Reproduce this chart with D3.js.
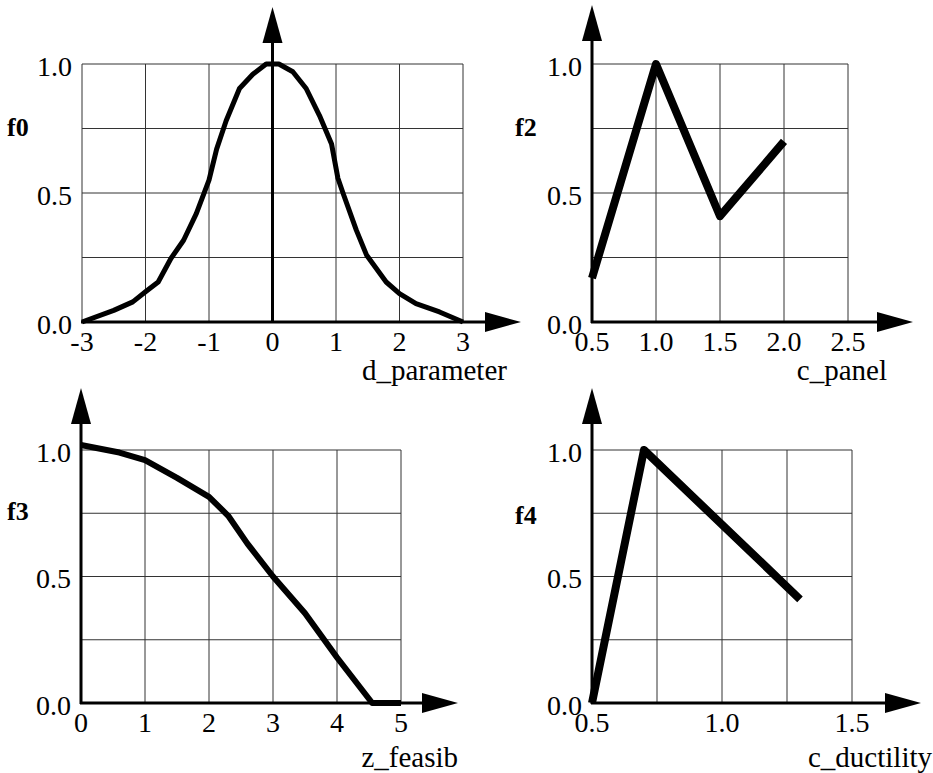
<!DOCTYPE html>
<html>
<head>
<meta charset="utf-8">
<script src="https://cdn.jsdelivr.net/npm/d3@7"></script>
<style>
  body { margin: 0; background: #fff; }
</style>
</head>
<body>
<div id="chart"></div>
<script>
// curve values
const f0X = [-3, -2.5, -2.2, -2, -1.8, -1.6, -1.4, -1.2, -1, -0.88, -0.73, -0.52, -0.31, -0.1, 0.1, 0.32, 0.53, 0.74, 0.93, 1.03, 1.11, 1.32, 1.48, 1.79, 2, 2.26, 2.63, 3];
const f0Y = [0, 0.045, 0.078, 0.117, 0.155, 0.246, 0.317, 0.42, 0.55, 0.67, 0.78, 0.905, 0.96, 1.0, 1.0, 0.97, 0.905, 0.8, 0.69, 0.557, 0.5, 0.356, 0.26, 0.155, 0.11, 0.071, 0.039, 0];

const f2X = [0.5, 1.0, 1.5, 2.0];
const f2Y = [0.17, 1.0, 0.41, 0.7];

const f3X = [0, 0.6, 1, 1.5, 2, 2.3, 2.6, 3, 3.5, 4, 4.55, 5];
const f3Y = [1.02, 0.99, 0.96, 0.89, 0.815, 0.74, 0.63, 0.5, 0.355, 0.18, 0, 0];

const f4X = [0.5, 0.7, 1.3];
const f4Y = [0, 1.0, 0.41];

// ticks / grid
const yTicks = [0, 0.5, 1.0];
const yGrid = [0, 0.25, 0.5, 0.75, 1.0];
const f0Ticks = [-3, -2, -1, 0, 1, 2, 3];
const f2Ticks = [0.5, 1.0, 1.5, 2.0, 2.5];
const f3Ticks = [0, 1, 2, 3, 4, 5];
const f4Ticks = [0.5, 1.0, 1.5];
const f4Grid = [0.5, 0.75, 1.0, 1.25, 1.5];

const FONT = "'Liberation Serif'";

const svg = d3.select("#chart")
    .append("svg")
    .attr("width", 933)
    .attr("height", 773);

const intFmt = d => String(d);          // plain hyphen minus, as in the figure
const decFmt = d => d.toFixed(1);

const panels = [
    { name: "f0", xs: f0X, ys: f0Y, dom: [-3, 3], xr: [82, 463], yr: [322, 64],
      ticks: f0Ticks, grid: f0Ticks, fmt: intFmt, yAxisAt: 0,
      xTip: 521, yTip: 7, title: "d_parameter", tx: 362, ty: 380, anchor: "start",
      lx: 7, ly: 127, sw: 5 },
    { name: "f2", xs: f2X, ys: f2Y, dom: [0.5, 2.5], xr: [592, 848], yr: [322, 64],
      ticks: f2Ticks, grid: f2Ticks, fmt: decFmt, yAxisAt: 0.5,
      xTip: 913, yTip: 5, title: "c_panel", tx: 887, ty: 380, anchor: "end",
      lx: 515, ly: 127, sw: 8 },
    { name: "f3", xs: f3X, ys: f3Y, dom: [0, 5], xr: [81, 401], yr: [703, 450],
      ticks: f3Ticks, grid: f3Ticks, fmt: intFmt, yAxisAt: 0,
      xTip: 458, yTip: 388, title: "z_feasib", tx: 458, ty: 767, anchor: "end",
      lx: 7, ly: 511, sw: 6 },
    { name: "f4", xs: f4X, ys: f4Y, dom: [0.5, 1.5], xr: [592, 852], yr: [703, 450],
      ticks: f4Ticks, grid: f4Grid, fmt: decFmt, yAxisAt: 0.5,
      xTip: 921, yTip: 388, title: "c_ductility", tx: 932, ty: 767, anchor: "end",
      lx: 515, ly: 515, sw: 8 }
];

function arrowHead(g, tipX, tipY, dir) {
    // dir: "right" or "up"
    const len = 36, half = 10;
    let pts;
    if (dir === "right") pts = [[tipX, tipY], [tipX - len, tipY - half], [tipX - len, tipY + half]];
    else pts = [[tipX, tipY], [tipX - half, tipY + len], [tipX + half, tipY + len]];
    g.append("path")
        .attr("d", d3.line()(pts) + "Z")
        .attr("fill", "#000");
}

panels.forEach(p => {
    const x = d3.scaleLinear().domain(p.dom).range(p.xr);
    const y = d3.scaleLinear().domain([0, 1]).range(p.yr);
    const g = svg.append("g").attr("class", "panel-" + p.name);

    // grid
    g.selectAll("line.vg").data(p.grid).enter().append("line")
        .attr("x1", d => x(d)).attr("x2", d => x(d))
        .attr("y1", y(0)).attr("y2", y(1))
        .attr("stroke", "#333").attr("stroke-width", 1);
    g.selectAll("line.hg").data(yGrid).enter().append("line")
        .attr("x1", x(p.dom[0])).attr("x2", x(p.dom[1]))
        .attr("y1", d => y(d)).attr("y2", d => y(d))
        .attr("stroke", "#333").attr("stroke-width", 1);

    // axes with arrows
    g.append("line")
        .attr("x1", x(p.dom[0]) - 1).attr("x2", p.xTip - 20)
        .attr("y1", y(0)).attr("y2", y(0))
        .attr("stroke", "#000").attr("stroke-width", 3);
    arrowHead(g, p.xTip, y(0), "right");
    g.append("line")
        .attr("x1", x(p.yAxisAt)).attr("x2", x(p.yAxisAt))
        .attr("y1", y(0) + 1).attr("y2", p.yTip + 20)
        .attr("stroke", "#000").attr("stroke-width", 3);
    arrowHead(g, x(p.yAxisAt), p.yTip, "up");

    // curve
    const pts = p.xs.map((v, i) => [v, p.ys[i]]);
    g.append("path")
        .datum(pts)
        .attr("fill", "none")
        .attr("stroke", "#000")
        .attr("stroke-width", p.sw)
        .attr("stroke-linejoin", "round")
        .attr("d", d3.line().x(d => x(d[0])).y(d => y(d[1])));

    // tick labels
    g.selectAll("text.xt").data(p.ticks).enter().append("text")
        .attr("x", d => x(d)).attr("y", y(0) + 29)
        .attr("text-anchor", "middle")
        .style("font-family", FONT)
        .style("font-size", "28px")
        .text(p.fmt);
    g.selectAll("text.yt").data(yTicks).enter().append("text")
        .attr("x", p.xr[0] - 10).attr("y", d => y(d) + 2)
        .attr("text-anchor", "end")
        .attr("dominant-baseline", "central")
        .style("font-family", FONT)
        .style("font-size", "28px")
        .text(decFmt);

    // titles
    g.append("text")
        .attr("x", p.tx).attr("y", p.ty)
        .attr("text-anchor", p.anchor)
        .style("font-family", FONT)
        .style("font-size", "29px")
        .text(p.title);
    g.append("text")
        .attr("x", p.lx).attr("y", p.ly)
        .attr("dominant-baseline", "central")
        .style("font-family", FONT)
        .style("font-size", "26px")
        .style("font-weight", "bold")
        .text(p.name);
});
</script>
</body>
</html>
